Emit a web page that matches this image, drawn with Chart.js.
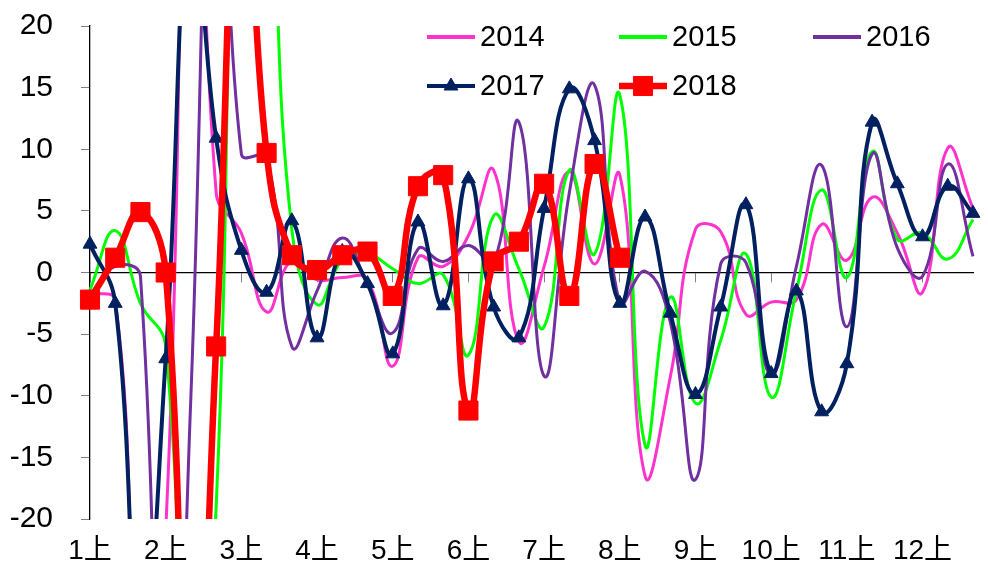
<!DOCTYPE html>
<html>
<head>
<meta charset="utf-8">
<script src="https://cdn.jsdelivr.net/npm/chart.js@4.4.1/dist/chart.umd.min.js"></script>
<style>
  html, body { margin: 0; padding: 0; background: #fff; }
  canvas { display: block; }
</style>
</head>
<body>
<canvas id="chart" width="988" height="568"></canvas>
<script>
// Ten-day periods (上/中/下旬) for each month
const periods = [
  '1上','1中','1下','2上','2中','2下','3上','3中','3下','4上','4中','4下',
  '5上','5中','5下','6上','6中','6下','7上','7中','7下','8上','8中','8下',
  '9上','9中','9下','10上','10中','10下','11上','11中','11下','12上','12中','12下'
];

// Year-on-year change (%) per period
const y2014 = [-1.6, -2.3, -32, -21, 55, 6.5, 3.2, -3.2, 1.0, -0.6, -0.4, -0.6,
               -7.6, 1.2, 0.5, 3.0, 8.3, -5.6, 0.5, 8.2, 0.7, 7.9, -16.5, -8.5,
               3.5, 3.3, -3.4, -2.4, -2.2, 3.9, 1.0, 6.1, 3.2, -1.6, 10.1, 5.2];
const y2015 = [-1.4, 3.4, -2.5, -6.0, -45, -19, 45, 35, 3.5, -2.6, 1.0, 1.5,
               0.3, -0.9, -0.2, -6.7, 4.6, 0.3, -4.4, 8.3, 1.5, 14.4, -14.0, -2.0,
               -10.6, -5.5, 1.5, -10.1, -1.5, 6.7, -0.4, 9.8, 2.7, 3.2, 1.1, 4.3];
const y2016 = [-1.8, 0.5, -0.3, -60, -10, 45, 9.6, 9.3, -6.0, -1.5, 2.8, -1.0,
               -4.9, 1.9, 0.9, 2.2, 0.8, 12.2, -8.4, 6.5, 15.2, -2.5, 0.1, -4.0,
               -16.8, 0.7, 0.8, -8.3, 0.5, 8.7, -4.4, 9.6, 2.0, -0.3, 8.8, 1.3];
const y2017 = [2.3, -2.5, -32, -7.0, 30, 10.9, 1.8, -1.6, 4.2, -5.3, 1.7, -0.9,
               -6.6, 4.1, -2.7, 7.6, -2.8, -5.3, 5.2, 14.9, 10.7, -2.5, 4.5, -3.3,
               -9.9, -2.8, 5.5, -8.2, -1.5, -11.3, -7.4, 12.2, 7.2, 2.9, 7.0, 4.8];
const y2018 = [-2.2, 1.2, 4.9, 0.0, -45, -6.0, 38, 9.7, 1.4, 0.2, 1.4, 1.7,
               -1.9, 7.0, 7.9, -11.2, 0.9, 2.5, 7.2, -1.9, 8.8, 1.2];

const seriesNames = ['2014', '2015', '2016', '2017', '2018'];

// Value axis range
const yMin = -20, yMax = 20, yStep = 5;

const FONT = "'Liberation Sans', Arial, 'Noto Sans CJK SC', sans-serif";
Chart.defaults.font.family = FONT;
Chart.defaults.color = '#000';

// Legend drawn as a 3-column grid in the upper right of the plot
const gridLegend = {
  id: 'gridLegend',
  afterDraw(chart) {
    const ctx = chart.ctx;
    const colX = [427, 619, 813];
    const rowY = [37, 86];
    const lineLen = 48;
    ctx.save();
    chart.data.datasets.forEach((ds, i) => {
      const x0 = colX[i % 3];
      const y = rowY[Math.floor(i / 3)];
      ctx.strokeStyle = ds.borderColor;
      ctx.lineWidth = Math.max(ds.borderWidth, 4);
      ctx.lineCap = 'butt';
      ctx.beginPath();
      ctx.moveTo(x0, y);
      ctx.lineTo(x0 + lineLen, y);
      ctx.stroke();
      if (ds.pointRadius > 0) {
        ctx.fillStyle = ds.pointBackgroundColor;
        ctx.strokeStyle = ds.pointBorderColor;
        ctx.lineWidth = 1;
        Chart.helpers.drawPoint(ctx, {
          pointStyle: ds.pointStyle, radius: ds.pointRadius, borderWidth: 1, rotation: 0
        }, x0 + lineLen / 2, y);
      }
      ctx.fillStyle = '#000';
      ctx.font = '29px ' + FONT;
      ctx.textAlign = 'left';
      ctx.textBaseline = 'middle';
      ctx.fillText(ds.label, x0 + lineLen + 5, y + 1);
    });
    ctx.restore();
  }
};

function lineSet(label, data, color, width, order, point) {
  return Object.assign({
    label, data, order,
    borderColor: color,
    backgroundColor: color,
    borderWidth: width,
    pointRadius: 0,
    pointStyle: 'circle',
    pointBackgroundColor: color,
    pointBorderColor: color,
    pointBorderWidth: 1,
    tension: 0.45,
    fill: false,
    clip: { left: 12, top: 0, right: 12, bottom: 0 }
  }, point || {});
}

new Chart(document.getElementById('chart'), {
  type: 'line',
  data: {
    labels: periods,
    datasets: [
      lineSet(seriesNames[0], y2014, '#FF33CC', 3, 5),
      lineSet(seriesNames[1], y2015, '#00FF00', 3, 4),
      lineSet(seriesNames[2], y2016, '#7030A0', 3, 3),
      lineSet(seriesNames[3], y2017, '#002060', 4, 2, { pointRadius: 8, pointStyle: 'triangle' }),
      lineSet(seriesNames[4], y2018, '#FF0000', 6.5, 1, { pointRadius: 13.5, pointStyle: 'rect' })
    ]
  },
  options: {
    responsive: false,
    animation: false,
    events: [],
    layout: { padding: { left: 0, top: 26, right: 11, bottom: 0 } },
    elements: { line: { capBezierPoints: false, cubicInterpolationMode: 'default' } },
    plugins: { legend: { display: false }, tooltip: { enabled: false } },
    scales: {
      x: {
        position: 'bottom',
        offset: false,
        ticks: {
          autoSkip: false, maxRotation: 0, minRotation: 0, padding: 15,
          font: { size: 28 },
          callback: (v, i) => (i % 3 === 0 ? periods[i] : '')
        },
        grid: { display: false, drawTicks: false },
        border: { display: false },
        afterFit(scale) { scale.height = 49; }
      },
      x0: {
        type: 'category',
        position: { y: 0 },
        offset: false,
        ticks: { display: false, autoSkip: false },
        grid: {
          display: true, drawOnChartArea: false, drawTicks: true, tickLength: 9, offset: false,
          color: (c) => (c.index % 3 === 0 ? '#808080' : 'rgba(0,0,0,0)')
        },
        border: { display: true, color: '#000', width: 1.3 }
      },
      y: {
        min: yMin, max: yMax,
        ticks: { stepSize: yStep, padding: 28, font: { size: 30 } },
        grid: { display: true, drawOnChartArea: false, drawTicks: true, tickLength: 9, color: '#808080' },
        border: { display: true, color: '#000', width: 1.3 },
        afterFit(scale) {
          scale.width = 90;
          scale.paddingTop = 0;
          scale.paddingBottom = 0;
        }
      }
    }
  },
  plugins: [gridLegend]
});
</script>
</body>
</html>
